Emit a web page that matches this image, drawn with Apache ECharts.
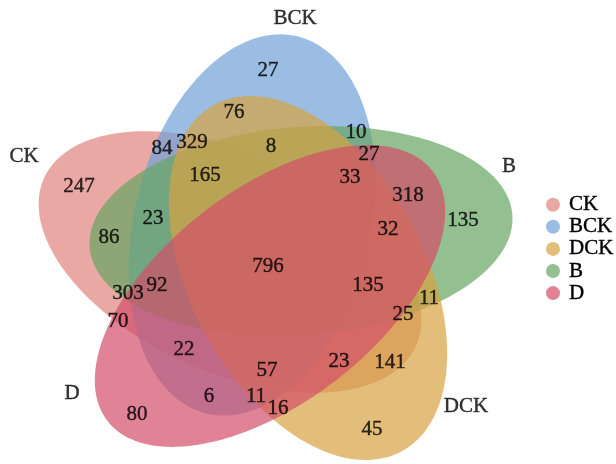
<!DOCTYPE html>
<html>
<head>
<meta charset="utf-8">
<script src="https://cdn.jsdelivr.net/npm/echarts@6/dist/echarts.min.js"></script>
<style>
  html, body { margin: 0; padding: 0; background: #fff; }
  #chart { width: 616px; height: 464px; }
</style>
</head>
<body>
<div id="chart"></div>
<script>
// sets, in legend order
var setNames = ['CK', 'BCK', 'DCK', 'B', 'D'];
var setColors = ['rgba(225,131,125,0.7)', 'rgba(112,161,216,0.7)', 'rgba(215,162,65,0.7)',
                 'rgba(102,165,99,0.7)', 'rgba(211,79,105,0.7)'];
var drawRank = [0, 1, 3, 2, 4];   // DCK is painted over B

// ellipse layout (plot units, y downwards): centre, semi axes, tilt in degrees
var ellCx  = [230, 252, 308, 301, 270];
var ellCy  = [262, 225, 278, 231, 296];
var ellA   = [204, 194, 197, 212, 205];
var ellB   = [110, 118, 117, 104, 107];
var ellRot = [-24.3, 76.5, 118.4, 4.4, 37.5];

// set name labels
var nameX = [24, 295, 466, 509, 72];
var nameY = [156, 18, 406, 166, 393];

// region counts and where they sit
var regionCounts = [27, 76, 329, 84, 10, 8, 27, 247, 165, 33, 318, 135, 23, 32, 86, 796,
                    135, 303, 92, 11, 70, 25, 22, 57, 23, 141, 6, 11, 16, 80, 45];
var regionX = [268, 234, 192, 162, 356, 271, 369, 79, 205, 350, 408, 463, 153, 388, 109, 268,
               368, 128, 157, 429, 118, 403, 184, 267, 339, 390, 209, 256, 278, 137, 372];
var regionY = [70, 112, 142, 148, 132, 146, 154, 186, 175, 177, 195, 220, 218, 229, 237, 266,
               285, 293, 285, 298, 321, 314, 349, 370, 361, 362, 396, 396, 408, 414, 429];

var FONT = '"Liberation Serif", "DejaVu Serif", serif';

function renderEllipse(params, api) {
    var cx = api.value(0), cy = api.value(1), a = api.value(2), b = api.value(3);
    var th = api.value(4) * Math.PI / 180;
    var pts = [], n = 180;
    for (var i = 0; i < n; i++) {
        var t = i / n * Math.PI * 2;
        var dx = a * Math.cos(t) * Math.cos(th) - b * Math.sin(t) * Math.sin(th);
        var dy = a * Math.cos(t) * Math.sin(th) + b * Math.sin(t) * Math.cos(th);
        pts.push(api.coord([cx + dx, cy - dy]));
    }
    return {
        type: 'polygon',
        shape: { points: pts },
        style: { fill: api.visual('color') }
    };
}

var series = [];
setNames.forEach(function (name, i) {
    series.push({
        name: name,
        type: 'custom',
        z: 1 + drawRank[i],
        renderItem: renderEllipse,
        itemStyle: { color: setColors[i] },
        encode: { x: 0, y: 1 },
        silent: true,
        data: [[ellCx[i], ellCy[i], ellA[i], ellB[i], ellRot[i]]]
    });
});

// serif numbers, stroked a touch so they read as heavy as the original
var textLabel = {
    show: true, position: 'inside', color: '#000',
    fontFamily: FONT, fontSize: 21,
    textBorderColor: '#000', textBorderWidth: 0.4,
    formatter: function (p) { return p.value[2]; }
};

series.push({
    type: 'scatter',
    symbolSize: 0,
    silent: true,
    z: 10,
    label: textLabel,
    data: regionCounts.map(function (v, i) { return [regionX[i], regionY[i], v]; })
});

series.push({
    type: 'scatter',
    symbolSize: 0,
    silent: true,
    z: 10,
    label: textLabel,
    data: setNames.map(function (n, i) { return [nameX[i], nameY[i], n]; })
});

var chart = echarts.init(document.getElementById('chart'));
chart.setOption({
    animation: false,
    backgroundColor: '#fff',
    grid: { left: 0, right: 0, top: 0, bottom: 0 },
    xAxis: { type: 'value', min: 0, max: 616, show: false },
    yAxis: { type: 'value', min: 0, max: 464, inverse: true, show: false },
    legend: {
        data: setNames,
        orient: 'vertical',
        left: 541,
        top: 189,
        icon: 'circle',
        itemWidth: 22,
        itemHeight: 14,
        itemGap: 0.7,
        textStyle: {
            fontFamily: FONT, fontSize: 21, lineHeight: 21, color: '#000',
            textBorderColor: '#000', textBorderWidth: 0.4
        }
    },
    series: series
});
</script>
</body>
</html>
